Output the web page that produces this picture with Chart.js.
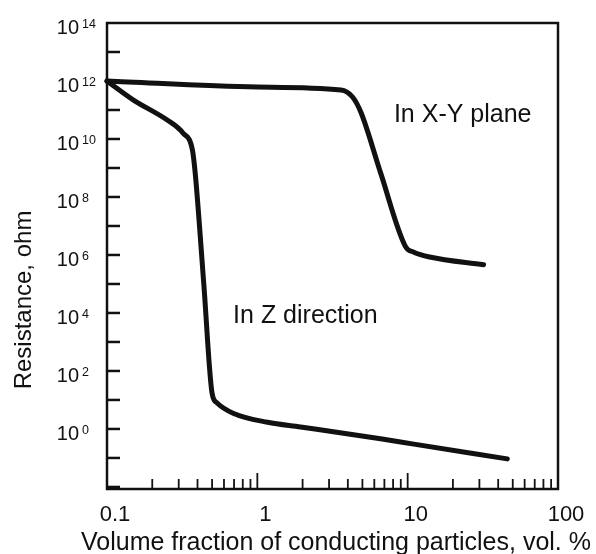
<!DOCTYPE html>
<html><head><meta charset="utf-8">
<script src="https://cdn.jsdelivr.net/npm/chart.js@4"></script>
<style>html,body{margin:0;padding:0;background:#fff}#wrap{width:596px;height:554px}</style>
</head><body><div id="wrap"><canvas id="c" width="596" height="554"></canvas></div>
<script>
// ---- data ----
const seriesLabels = ['In X-Y plane', 'In Z direction'];
const xyX = [0.1, 1.0, 3.6, 4.3, 4.9, 6.6, 9.7, 11, 14, 32];
const xyY = [1e12, 6.2e11, 4.9e11, 2.8e11, 8e10, 6.9e8, 1.9e6, 1.25e6, 8.5e5, 4.6e5];
const zX = [0.1, 0.15, 0.25, 0.32, 0.37, 0.386, 0.44, 0.5, 0.54, 0.69, 1.17, 1.94, 6.6, 11, 46];
const zY = [1e12, 2.2e11, 4.6e10, 1.6e10, 4.2e9, 6.8e8, 1.07e5, 17, 7.9, 3.5, 1.7, 1.17, 0.46, 0.30, 0.093];
const xTickValues = [0.1, 1, 10, 100];
const xTickLabels = ['0.1', '1', '10', '100'];
const yTickExponents = [0, 2, 4, 6, 8, 10, 12, 14];
const xTitle = 'Volume fraction of conducting particles, vol. %';
const yTitle = 'Resistance, ohm';

const FONT = '"Liberation Sans", Arial, Helvetica, sans-serif';
const INK = '#111';

const decorPlugin = {
  id: 'decor',
  afterDraw(chart) {
    const ctx = chart.ctx, a = chart.chartArea;
    const xs = chart.scales.x, ys = chart.scales.y;
    ctx.save();
    ctx.strokeStyle = INK; ctx.fillStyle = INK;
    // frame
    ctx.lineWidth = 2.5;
    ctx.strokeRect(a.left, a.top, a.right - a.left, a.bottom - a.top);
    // y inward ticks every decade
    ctx.lineWidth = 2.5;
    for (let e = -2; e <= 14; e++) {
      const y = ys.getPixelForValue(Math.pow(10, e));
      if (y < a.top + 1 || y > a.bottom - 1) continue;
      ctx.beginPath(); ctx.moveTo(a.left, y); ctx.lineTo(a.left + 13, y); ctx.stroke();
    }
    // x inward ticks
    ctx.lineWidth = 1.8;
    for (let d = -1; d <= 1; d++) {
      for (let m = 1; m <= 9; m++) {
        const v = m * Math.pow(10, d);
        const x = xs.getPixelForValue(v);
        if (x < a.left + 1 || x > a.right - 1) continue;
        const len = (m === 1) ? 16 : 10;
        ctx.beginPath(); ctx.moveTo(x, a.bottom); ctx.lineTo(x, a.bottom - len); ctx.stroke();
      }
    }
    // y tick labels with superscript exponents
    yTickExponents.forEach(e => {
      const y = ys.getPixelForValue(Math.pow(10, e));
      ctx.font = '20px ' + FONT; ctx.textAlign = 'right'; ctx.textBaseline = 'alphabetic';
      ctx.fillText('10', 79, y + 11);
      ctx.font = '12.5px ' + FONT; ctx.textAlign = 'left';
      ctx.fillText(String(e), 82, y + 5);
    });
    // axis titles
    ctx.font = '25px ' + FONT; ctx.textAlign = 'center'; ctx.textBaseline = 'alphabetic';
    ctx.fillText(xTitle, 336, 550);
    ctx.font = '24px ' + FONT;
    ctx.save();
    ctx.translate(31, 300); ctx.rotate(-Math.PI / 2);
    ctx.fillText(yTitle, 0, 0);
    ctx.restore();
    // curve annotations
    const notes = [
      { text: seriesLabels[0], x: 8.1, y: 3.9e10 },
      { text: seriesLabels[1], x: 0.69, y: 4.6e3 }
    ];
    ctx.font = '25px ' + FONT; ctx.textAlign = 'left';
    notes.forEach(n => ctx.fillText(n.text, xs.getPixelForValue(n.x), ys.getPixelForValue(n.y)));
    ctx.restore();
  }
};

const lineStyle = {
  showLine: true, borderColor: INK, borderWidth: 5, pointRadius: 0,
  cubicInterpolationMode: 'monotone', clip: false,
  borderCapStyle: 'round', borderJoinStyle: 'round', fill: false
};

new Chart(document.getElementById('c'), {
  type: 'scatter',
  data: {
    datasets: [
      Object.assign({ label: seriesLabels[0], data: xyX.map((x, i) => ({ x, y: xyY[i] })) }, lineStyle),
      Object.assign({ label: seriesLabels[1], data: zX.map((x, i) => ({ x, y: zY[i] })) }, lineStyle)
    ]
  },
  options: {
    responsive: false, animation: false, devicePixelRatio: 1,
    layout: { padding: { top: 23, right: 38, left: 0, bottom: 0 } },
    plugins: { legend: { display: false }, tooltip: { enabled: false } },
    scales: {
      x: {
        type: 'logarithmic', min: 0.1, max: 100,
        grid: { display: false, drawTicks: false }, border: { display: false },
        afterBuildTicks: s => { s.ticks = xTickValues.map(v => ({ value: v })); },
        afterFit: s => { s.height = 65; },
        ticks: {
          autoSkip: false, maxRotation: 0, color: INK, padding: 13, labelOffset: 8,
          font: { family: FONT, size: 22 },
          callback: (v, i) => xTickLabels[i]
        }
      },
      y: {
        type: 'logarithmic', min: 8.5e-3, max: 1e14,
        grid: { display: false, drawTicks: false }, border: { display: false },
        afterBuildTicks: s => { const t = []; for (let e = -2; e <= 14; e++) t.push({ value: Math.pow(10, e) }); s.ticks = t; },
        afterFit: s => { s.width = 107; },
        ticks: { display: false }
      }
    }
  },
  plugins: [decorPlugin]
});
</script>
</body></html>
